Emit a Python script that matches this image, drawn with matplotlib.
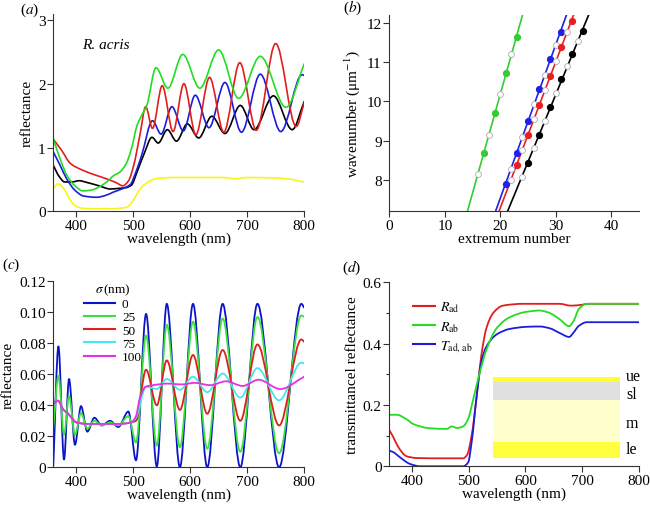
import numpy as np
import matplotlib
matplotlib.use('Agg')
import matplotlib.pyplot as plt
from matplotlib.path import Path
from matplotlib.patches import PathPatch, Rectangle
from matplotlib.lines import Line2D

plt.rcParams['font.family'] = ['Liberation Serif', 'DejaVu Serif']
plt.rcParams['mathtext.fontset'] = 'stix'
plt.rcParams['font.size'] = 10

# ---------------- data: panel (a) ----------------
a_green_x = [360, 372, 384, 398, 412, 425, 440, 455, 466, 476, 488, 497, 507, 516, 524, 540, 561, 587, 617, 650, 685, 723, 768, 800]
a_green_y = [1.14, 0.82, 0.56, 0.40, 0.32, 0.33, 0.38, 0.47, 0.56, 0.61, 0.75, 0.98, 1.35, 1.52, 1.66, 2.25, 1.93, 2.46, 1.93, 2.53, 1.77, 2.43, 1.63, 2.31]
a_red_x = [360, 375, 390, 410, 430, 450, 470, 482, 492, 501, 512, 522, 534, 551, 570, 589, 610, 634, 659, 687, 716, 750, 786, 800]
a_red_y = [1.13, 0.95, 0.75, 0.65, 0.58, 0.52, 0.45, 0.40, 0.48, 0.72, 1.20, 1.64, 1.30, 1.97, 1.25, 2.00, 1.20, 2.10, 1.24, 2.33, 1.27, 2.63, 1.33, 1.70]
a_blue_x = [360, 372, 384, 398, 413, 436, 452, 465, 480, 495, 505, 515, 534, 549, 568, 588, 609, 633, 661, 690, 723, 759, 796, 800]
a_blue_y = [0.93, 0.72, 0.50, 0.33, 0.24, 0.22, 0.25, 0.30, 0.35, 0.42, 0.62, 0.88, 1.42, 1.21, 1.64, 1.26, 1.82, 1.31, 2.02, 1.24, 2.15, 1.25, 2.14, 2.13]
a_black_x = [360, 370, 380, 393, 405, 420, 440, 460, 475, 487, 497, 507, 520, 533, 544, 560, 576, 595, 615, 638, 661, 688, 712, 746, 779, 800]
a_black_y = [0.72, 0.55, 0.46, 0.46, 0.48, 0.45, 0.40, 0.35, 0.36, 0.37, 0.41, 0.62, 0.92, 1.16, 1.07, 1.28, 1.10, 1.37, 1.15, 1.49, 1.22, 1.66, 1.28, 1.81, 1.28, 1.72]
a_yellow_x = [360, 368, 378, 388, 398, 410, 430, 460, 480, 490, 500, 510, 520, 540, 570, 620, 660, 678, 700, 740, 770, 800]
a_yellow_y = [0.36, 0.43, 0.36, 0.20, 0.09, 0.05, 0.04, 0.04, 0.05, 0.07, 0.17, 0.32, 0.42, 0.51, 0.53, 0.53, 0.53, 0.51, 0.53, 0.525, 0.51, 0.46]

# ---------------- data: panel (b) ----------------
b_green_max_n = [17, 19, 21, 23]
b_green_max_k = [8.68, 9.71, 10.72, 11.65]
b_green_min_n = [16, 18, 20, 22]
b_green_min_k = [8.15, 9.13, 10.19, 11.21]
b_blue_max_n = [21, 23, 25, 27, 29, 31]
b_blue_max_k = [7.89, 8.69, 9.51, 10.31, 11.07, 11.76]
b_blue_min_n = [22, 24, 26, 28, 30]
b_blue_min_k = [8.28, 9.10, 9.93, 10.68, 11.45]
b_red_max_n = [23, 25, 27, 29, 31, 33]
b_red_max_k = [8.37, 9.15, 9.91, 10.66, 11.40, 12.04]
b_red_min_n = [22, 24, 26, 28, 30, 32]
b_red_min_k = [7.99, 8.77, 9.54, 10.30, 11.03, 11.76]
b_black_max_n = [25, 27, 29, 31, 33, 35]
b_black_max_k = [8.42, 9.13, 9.85, 10.56, 11.21, 11.79]
b_black_min_n = [24, 26, 28, 30, 32, 34]
b_black_min_k = [8.07, 8.82, 9.50, 10.22, 10.90, 11.54]

# ---------------- data: panel (c) ----------------
c_sigma_labels = ['0', '25', '50', '75', '100']
c_wl = [360, 369, 378.8, 387.6, 398, 408.6, 419.7, 432, 445, 459.5, 474, 491.7, 505, 522.7, 541.5, 559, 582, 605, 630, 657, 688, 718, 756, 795, 800]
c_s0 = [0.001, 0.078, 0.005, 0.057, 0.0145, 0.0395, 0.023, 0.032, 0.027, 0.030, 0.026, 0.036, 0.0045, 0.099, 0.0005, 0.1055, 0.0, 0.1055, 0.0, 0.1055, 0.0, 0.1055, 0.0, 0.1055, 0.103]
c_s25 = [0.025, 0.059, 0.021, 0.046, 0.021, 0.035, 0.025, 0.030, 0.027, 0.029, 0.027, 0.033, 0.016, 0.085, 0.014, 0.092, 0.013, 0.094, 0.012, 0.096, 0.010, 0.097, 0.009, 0.098, 0.097]
c_wl_s50 = [360, 368, 378, 385, 392, 400, 420, 445, 475, 497, 505, 522.7, 541.5, 559, 582, 605, 630, 657, 688, 718, 756, 795, 800]
c_s50 = [0.041, 0.043, 0.037, 0.035, 0.032, 0.029, 0.028, 0.028, 0.028, 0.029, 0.030, 0.063, 0.040, 0.069, 0.037, 0.0725, 0.0345, 0.0757, 0.030, 0.0793, 0.027, 0.0825, 0.081]
c_s75 = [0.042, 0.043, 0.037, 0.035, 0.032, 0.029, 0.028, 0.028, 0.028, 0.029, 0.032, 0.052, 0.0505, 0.057, 0.050, 0.0585, 0.0485, 0.0605, 0.045, 0.064, 0.0432, 0.0675, 0.067]
c_wl_s100 = [360, 368, 378, 385, 392, 400, 420, 445, 475, 497, 505, 512, 522, 535, 560, 585, 608, 635, 663, 692, 720, 758, 800]
c_s100 = [0.042, 0.043, 0.037, 0.035, 0.032, 0.029, 0.028, 0.028, 0.028, 0.029, 0.033, 0.045, 0.052, 0.053, 0.054, 0.0535, 0.0545, 0.053, 0.0555, 0.0525, 0.0565, 0.0505, 0.0585]

# ---------------- data: panel (d) ----------------
d_rad_x = [360, 367, 376, 390, 408, 450, 490, 497, 505, 514, 522, 531, 543, 560, 596, 660, 680, 700, 710, 800]
d_rad_y = [0.118, 0.095, 0.062, 0.033, 0.027, 0.026, 0.026, 0.037, 0.10, 0.23, 0.36, 0.45, 0.50, 0.524, 0.53, 0.53, 0.524, 0.527, 0.53, 0.53]
d_rab_x = [360, 373, 390, 402, 432, 461, 470, 479, 490, 499, 508, 520, 531, 549, 572, 602, 625, 640, 660, 677, 685, 694, 708, 800]
d_rab_y = [0.168, 0.168, 0.154, 0.138, 0.124, 0.122, 0.13, 0.125, 0.13, 0.155, 0.22, 0.31, 0.38, 0.45, 0.486, 0.504, 0.508, 0.502, 0.48, 0.457, 0.475, 0.513, 0.53, 0.53]
d_t_x = [360, 367, 379, 396, 414, 490, 499, 505, 514, 522, 531, 549, 572, 602, 625, 643, 660, 677, 685, 694, 708, 800]
d_t_y = [0.051, 0.046, 0.029, 0.008, 0.0, 0.0, 0.013, 0.078, 0.23, 0.34, 0.39, 0.43, 0.448, 0.455, 0.456, 0.45, 0.435, 0.422, 0.437, 0.458, 0.47, 0.47]
d_labels = [r'$R_{\mathrm{ad}}$', r'$R_{\mathrm{ab}}$', r'$T_{\mathrm{ad,\,ab}}$']
layer_names = ['ue', 'sl', 'm', 'le']
layer_bottom = [0.276, 0.217, 0.078, 0.026]
layer_top = [0.292, 0.276, 0.217, 0.078]
layer_label_y = [0.293, 0.236, 0.142, 0.055]
layer_colors = ['#ffff30', '#e0e0e0', '#ffffcc', '#ffff40']
layer_wl = [542, 766]

# ---------------- helpers ----------------
def smooth_curve(ax, x, y, color, lw=1.2, z=2):
    x = np.asarray(x, float)
    y = np.asarray(y, float)
    h = np.diff(x)
    d = np.diff(y) / h
    m = np.zeros_like(y)
    m[0] = d[0]
    m[-1] = d[-1]
    for k in range(1, len(x) - 1):
        if d[k - 1] * d[k] <= 0:
            m[k] = 0.0
        else:
            w1 = 2 * h[k] + h[k - 1]
            w2 = h[k] + 2 * h[k - 1]
            m[k] = (w1 + w2) / (w1 / d[k - 1] + w2 / d[k])
    verts = [(x[0], y[0])]
    codes = [Path.MOVETO]
    for k in range(len(h)):
        verts += [(x[k] + h[k] / 3, y[k] + m[k] * h[k] / 3),
                  (x[k + 1] - h[k] / 3, y[k + 1] - m[k + 1] * h[k] / 3),
                  (x[k + 1], y[k + 1])]
        codes += [Path.CURVE4] * 3
    ax.add_patch(PathPatch(Path(verts, codes), fill=False, edgecolor=color,
                           lw=lw, zorder=z, capstyle='round', joinstyle='round'))


def style(ax):
    for s in ['top', 'right']:
        ax.spines[s].set_visible(False)
    for s in ['left', 'bottom']:
        ax.spines[s].set_linewidth(0.8)
        ax.spines[s].set_color('#333333')
    ax.tick_params(direction='out', length=4, width=0.8, labelsize=11, pad=1.5, color='#333333')


fig = plt.figure(figsize=(6.5, 5.06), dpi=100)

GREEN = '#22dd22'
RED = '#e01e1e'
BLUE = '#1c1cdc'
YELLOW = '#f6f61a'

# ---------------- panel (a) ----------------
axa = fig.add_axes([0.082, 0.5804, 0.386, 0.3896])
style(axa)
smooth_curve(axa, a_yellow_x, a_yellow_y, YELLOW)
smooth_curve(axa, a_black_x, a_black_y, 'black')
smooth_curve(axa, a_blue_x, a_blue_y, BLUE)
smooth_curve(axa, a_red_x, a_red_y, RED)
smooth_curve(axa, a_green_x, a_green_y, GREEN)
axa.set_xlim(360, 800)
axa.set_ylim(0, 3.09)
axa.set_xticks([400, 500, 600, 700, 800])
axa.set_yticks([0, 1, 2, 3])
axa.set_yticklabels(['0', '1', '2', '3'])
axa.set_xlabel('wavelength (nm)', fontsize=11, labelpad=0)
axa.set_ylabel('reflectance', fontsize=11, labelpad=3)
axa.text(410, 2.62, 'R. acris', fontstyle='italic', fontsize=11, va='center', ha='left')

# ---------------- panel (b) ----------------
axb = fig.add_axes([0.599, 0.581, 0.384, 0.387])
style(axb)
axb.set_xlim(0, 45)
axb.set_ylim(7.2, 12.2)
series_b = [
    (b_green_max_n, b_green_max_k, b_green_min_n, b_green_min_k, '#33cc33'),
    (b_blue_max_n, b_blue_max_k, b_blue_min_n, b_blue_min_k, '#2020e6'),
    (b_red_max_n, b_red_max_k, b_red_min_n, b_red_min_k, '#e62020'),
    (b_black_max_n, b_black_max_k, b_black_min_n, b_black_min_k, 'black'),
]
for mx_n, mx_k, mn_n, mn_k, col in series_b:
    n_all = np.array(mx_n + mn_n, float)
    k_all = np.array(mx_k + mn_k, float)
    slope, icpt = np.polyfit(n_all, k_all, 1)
    xl = np.array(axb.get_xlim())
    axb.plot(xl, slope * xl + icpt, color=col, lw=1.2, zorder=2)
    axb.plot(mx_n, mx_k, 'o', color=col, ms=4.2, mec=col, zorder=3)
    axb.plot(mn_n, mn_k, 'o', mfc='white', mec='#aaaaaa', mew=0.6, ms=4.2, zorder=3)
axb.set_xticks([0, 10, 20, 30, 40])
axb.set_yticks([8, 9, 10, 11, 12])
axb.set_xlabel('extremum number', fontsize=11, labelpad=0)
axb.set_ylabel('wavenumber (μm$^{-1}$)', fontsize=11, labelpad=3)

# ---------------- panel (c) ----------------
axc = fig.add_axes([0.082, 0.0745, 0.386, 0.3675])
style(axc)
c_colors = ['#0a14c8', '#3ce03c', '#dc2020', '#40e8f0', '#e830e0']
smooth_curve(axc, c_wl, c_s0, c_colors[0], lw=1.3)
smooth_curve(axc, c_wl, c_s25, c_colors[1], lw=1.3)
smooth_curve(axc, c_wl_s50, c_s50, c_colors[2], lw=1.3)
smooth_curve(axc, c_wl_s50, c_s75, c_colors[3], lw=1.3)
smooth_curve(axc, c_wl_s100, c_s100, c_colors[4], lw=1.3)
axc.set_xlim(360, 800)
axc.set_ylim(0, 0.12)
axc.set_xticks([400, 500, 600, 700, 800])
axc.set_yticks([0, 0.02, 0.04, 0.06, 0.08, 0.10, 0.12])
axc.set_yticklabels(['0', '0.02', '0.04', '0.06', '0.08', '0.10', '0.12'])
axc.set_xlabel('wavelength (nm)', fontsize=11, labelpad=0)
axc.set_ylabel('reflectance', fontsize=11, labelpad=3)
handles_c = [Line2D([], [], color=c, lw=1.5) for c in c_colors]
legc = axc.legend(handles_c, c_sigma_labels, title=r'$\sigma\,$(nm)', loc='upper left',
                  bbox_to_anchor=(0.095, 1.035), frameon=False, handlelength=2.4,
                  labelspacing=0.08, handletextpad=0.5, borderpad=0, fontsize=9.5,
                  title_fontsize=9.5)

# ---------------- panel (d) ----------------
axd = fig.add_axes([0.599, 0.0765, 0.384, 0.3635])
style(axd)
for name, lo, hi, ly, col in zip(layer_names, layer_bottom, layer_top, layer_label_y, layer_colors):
    axd.add_patch(Rectangle((layer_wl[0], lo), layer_wl[1] - layer_wl[0], hi - lo,
                            facecolor=col, edgecolor='none', zorder=1))
    axd.text(layer_wl[1] + 11, ly, name, fontsize=11.5, va='center', ha='left')
smooth_curve(axd, d_rad_x, d_rad_y, RED, lw=1.3)
smooth_curve(axd, d_t_x, d_t_y, BLUE, lw=1.3)
smooth_curve(axd, d_rab_x, d_rab_y, GREEN, lw=1.3)
axd.set_xlim(360, 800)
axd.set_ylim(0, 0.6)
axd.set_xticks([400, 500, 600, 700, 800])
axd.set_yticks([0, 0.2, 0.4, 0.6])
axd.set_yticklabels(['0', '0.2', '0.4', '0.6'])
axd.set_yticks([0.1, 0.3, 0.5], minor=True)
axd.tick_params(which='minor', direction='out', length=2.5, width=0.8, color='#333333')
axd.set_xlabel('wavelength (nm)', fontsize=11, labelpad=0)
axd.set_ylabel('transmittancel reflectance', fontsize=11, labelpad=3)
handles_d = [Line2D([], [], color=c, lw=1.5) for c in [RED, GREEN, BLUE]]
axd.legend(handles_d, d_labels, loc='upper left', bbox_to_anchor=(0.068, 0.945),
           frameon=False, handlelength=1.6, labelspacing=0.35, handletextpad=0.3,
           borderpad=0, fontsize=10)

# ---------------- panel letters ----------------
for lx, ly, letter in [(20, 10, 'a'), (343, 8, 'b'), (2, 265, 'c'), (342, 268, 'd')]:
    fig.text(lx / 650, 1 - ly / 506, '(' + r'$\mathit{' + letter + '}$' + ')',
             fontsize=11, ha='left', va='center')

fig.savefig('out.png', dpi=100)
